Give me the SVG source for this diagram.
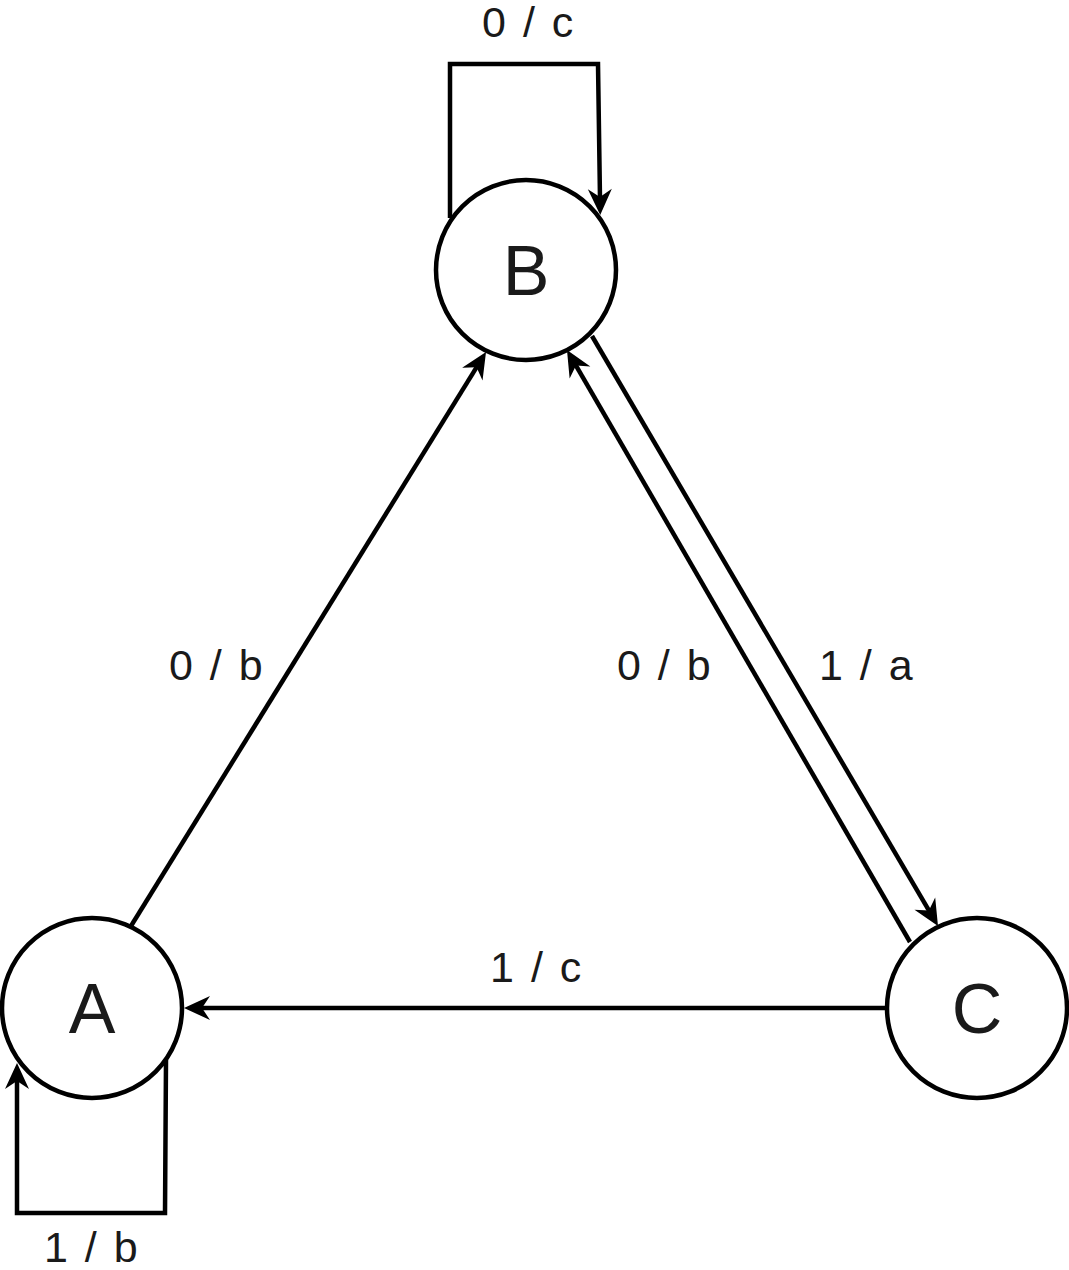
<svg xmlns="http://www.w3.org/2000/svg" width="1069" height="1270" viewBox="0 0 1069 1270">
<style>
.node{fill:#fff;stroke:#000;stroke-width:4.5}
.nt{font-family:"Liberation Sans",Arial,sans-serif;font-size:70px;fill:#1a1a1a;text-anchor:middle}
.lbl{font-family:"Liberation Sans",Arial,sans-serif;font-size:43px;fill:#1a1a1a;text-anchor:middle;letter-spacing:2.5px}
.edge{fill:none;stroke:#000;stroke-width:4.5;marker-end:url(#arr)}
</style>
<defs>
<marker id="arr" markerUnits="userSpaceOnUse" markerWidth="30" markerHeight="30" refX="10" refY="0" viewBox="-2 -15 30 30" orient="auto" overflow="visible">
<path d="M26,0 L0,-12 L8,0 L0,12 Z" fill="#000"/>
</marker>
</defs>
<rect width="1069" height="1270" fill="#fff"/>
<g id="connectors">
<path class="edge" d="M450,218 V64 H598 L600,199"/>
<path class="edge" d="M166,1060 L165,1213 H17 V1079"/>
<path class="edge" d="M131,926 L477.6,365.6"/>
<path class="edge" d="M910,942 L575,363.8"/>
<path class="edge" d="M592,336 L929.9,912.2"/>
<path class="edge" d="M887,1008 L200,1008"/>
</g>
<g id="node-B"><circle class="node" cx="526" cy="270" r="90"/><text class="nt" x="526" y="295">B</text></g>
<g id="node-A"><circle class="node" cx="92" cy="1008" r="90"/><text class="nt" x="92" y="1033">A</text></g>
<g id="node-C"><circle class="node" cx="977" cy="1008" r="90"/><text class="nt" x="977" y="1033">C</text></g>
<g id="labels">
<text class="lbl" x="529" y="37">0 / c</text>
<text class="lbl" x="217" y="680">0 / b</text>
<text class="lbl" x="665" y="680">0 / b</text>
<text class="lbl" x="867" y="680">1 / a</text>
<text class="lbl" x="537" y="982">1 / c</text>
<text class="lbl" x="92" y="1262">1 / b</text>
</g>
</svg>
